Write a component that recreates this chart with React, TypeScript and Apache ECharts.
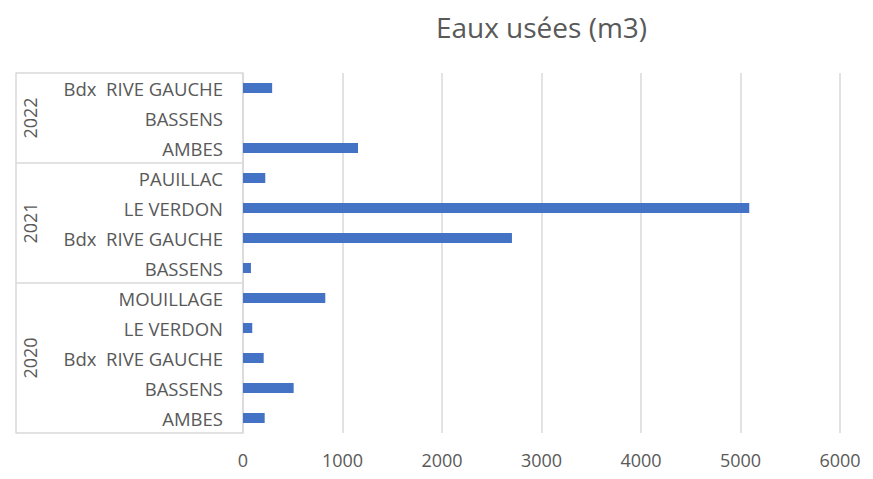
import React, { useEffect, useRef } from 'react';
import * as echarts from 'echarts';

const years = ['2020', '2021', '2022'];
const sites2020 = ['AMBES', 'BASSENS', 'Bdx  RIVE GAUCHE', 'LE VERDON', 'MOUILLAGE'];
const values2020 = [218, 509, 208, 93, 827];
const sites2021 = ['BASSENS', 'Bdx  RIVE GAUCHE', 'LE VERDON', 'PAUILLAC'];
const values2021 = [80, 2703, 5088, 224];
const sites2022 = ['AMBES', 'BASSENS', 'Bdx  RIVE GAUCHE'];
const values2022 = [1156, 0, 293];
const xTickLabels = ['0', '1000', '2000', '3000', '4000', '5000', '6000'];
const chartTitle = 'Eaux usées (m3)';

const W = 873;
const H = 479;
const FONT = "'Open Sans', 'Noto Sans', sans-serif";
const TEXT = '#595959';
const GRID_LINE = '#d9d9d9';
const BAR = '#4472C4';

export default function App() {
  const ref = useRef<HTMLDivElement>(null);

  useEffect(() => {
    if (!ref.current) return;
    const chart = echarts.init(ref.current, undefined, { renderer: 'svg' });

    const groups = [
      { year: years[0], sites: sites2020, values: values2020 },
      { year: years[1], sites: sites2021, values: values2021 },
      { year: years[2], sites: sites2022, values: values2022 },
    ];
    const categories: string[] = [];
    const values: number[] = [];
    const starts: number[] = [];
    const centers: Record<string, string> = {};
    groups.forEach((g) => {
      starts.push(categories.length);
      centers[String(categories.length + g.sites.length / 2)] = g.year;
      g.sites.forEach((s, i) => {
        categories.push(g.year + '|' + s);
        values.push(g.values[i]);
      });
    });
    const n = categories.length;

    const gridLeft = 243;
    const gridRight = 33;
    const gridTop = 73;
    const gridBottom = 46;
    const xMin = Number(xTickLabels[0]);
    const xMax = Number(xTickLabels[xTickLabels.length - 1]);
    const xInterval = Number(xTickLabels[1]) - xMin;

    chart.setOption({
      animation: false,
      textStyle: { fontFamily: FONT },
      grid: {
        left: gridLeft,
        right: gridRight,
        top: gridTop,
        bottom: gridBottom,
        containLabel: false,
        outerBoundsMode: 'none',
      },
      graphic: [
        {
          type: 'text',
          x: gridLeft + (W - gridLeft - gridRight) / 2,
          y: 27,
          style: {
            text: chartTitle,
            fill: TEXT,
            font: `28px ${FONT}`,
            align: 'center',
            verticalAlign: 'middle',
          },
        },
      ],
      xAxis: {
        type: 'value',
        min: xMin,
        max: xMax,
        interval: xInterval,
        axisLine: { show: false },
        axisTick: { show: false },
        splitLine: { show: true, lineStyle: { color: GRID_LINE, width: 1.5 } },
        axisLabel: {
          color: TEXT,
          fontSize: 18,
          fontFamily: FONT,
          margin: 18,
          formatter: (v: number) => String(v),
        },
      },
      yAxis: [
        {
          type: 'category',
          data: categories,
          axisLine: { show: true, lineStyle: { color: GRID_LINE, width: 1.5 } },
          axisTick: {
            show: true,
            length: 227,
            interval: (index: number) => starts.includes(index),
            lineStyle: { color: GRID_LINE, width: 1.5 },
          },
          splitLine: { show: false },
          axisLabel: {
            color: TEXT,
            fontSize: 18.5,
            fontFamily: FONT,
            margin: 20,
            interval: 0,
            formatter: (v: string) => v.split('|')[1],
          },
        },
        {
          type: 'value',
          position: 'left',
          offset: 227,
          min: 0,
          max: n,
          interval: 0.5,
          axisLine: { show: true, lineStyle: { color: GRID_LINE, width: 1.5 } },
          axisTick: { show: false },
          splitLine: { show: false },
          axisLabel: {
            inside: true,
            rotate: 90,
            margin: 5,
            color: TEXT,
            fontSize: 18,
            fontFamily: FONT,
            showMinLabel: true,
            showMaxLabel: true,
            formatter: (v: number) => centers[String(v)] || '',
          },
        },
      ],
      series: [
        {
          type: 'bar',
          yAxisIndex: 0,
          data: values,
          barWidth: 10,
          itemStyle: { color: BAR },
        },
      ],
    });

    return () => chart.dispose();
  }, []);

  return (
    <div
      ref={ref}
      style={{ position: 'fixed', left: 0, top: 0, width: W, height: H, background: '#fff' }}
    />
  );
}
